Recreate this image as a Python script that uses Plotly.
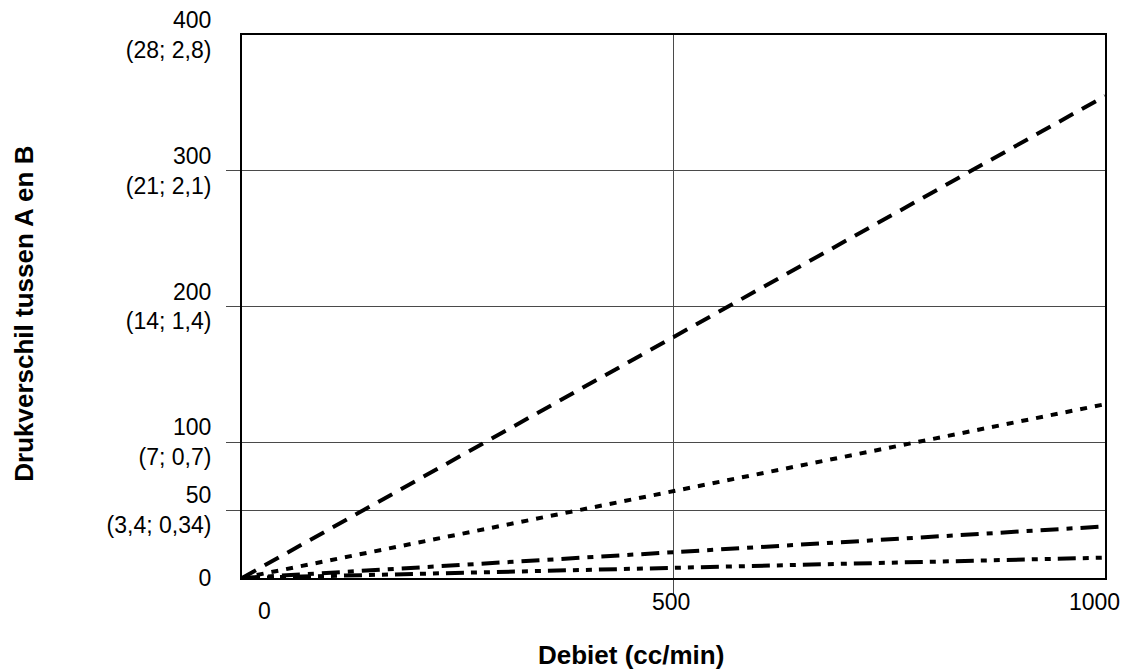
import plotly.graph_objects as go

# data
debiet = [0, 1000]
serie_a = [0, 355]   # dashed
serie_b = [0, 128]   # dotted
serie_c = [0, 38]    # dash-dot
serie_d = [0, 15]    # dash-dot-dot

y_ticks = [0, 50, 100, 200, 300, 400]
y_labels = ["0", "50<br>(3,4; 0,34)", "100<br>(7; 0,7)", "200<br>(14; 1,4)",
            "300<br>(21; 2,1)", "400<br>(28; 2,8)"]
y_grid = [50, 100, 200, 300]
x_ticks = [0, 500, 1000]
x_labels = ["0", "500", "1000"]
x_grid = [500]

FONT = "Liberation Sans, Arial, Helvetica, sans-serif"
GRID = "#4a4a4a"

series = [
    (serie_a, "16px,10px"),
    (serie_b, "7px,8px"),
    (serie_c, "18px,8px,6px,8px"),
    (serie_d, "18px,7px,6px,7px,6px,7px"),
]

fig = go.Figure()
for vals, dash in series:
    fig.add_trace(go.Scatter(x=debiet, y=vals, mode="lines",
                             line=dict(color="black", width=4, dash=dash),
                             showlegend=False, hoverinfo="skip"))

fig.update_layout(
    width=1121, height=664,
    margin=dict(l=234, r=24, t=27, b=94),
    plot_bgcolor="white", paper_bgcolor="white",
    font=dict(family=FONT, size=23, color="black"),
    xaxis=dict(range=[0, 1000], tickvals=x_grid, showticklabels=False,
               showgrid=True, gridcolor=GRID, gridwidth=1,
               ticks="outside", ticklen=14, tickcolor=GRID, tickwidth=1,
               showline=True, linecolor="black", linewidth=2, mirror=True,
               zeroline=False, automargin=False),
    yaxis=dict(range=[0, 400], tickvals=y_ticks, ticktext=y_labels,
               showgrid=False, ticks="outside", ticklen=14,
               tickcolor="rgba(0,0,0,0)", ticklabelstandoff=10,
               ticklabeloverflow="allow", automargin=False,
               minor=dict(tickmode="array", tickvals=y_grid, ticks="outside",
                          ticklen=14, tickcolor=GRID, tickwidth=1,
                          showgrid=True, gridcolor=GRID, gridwidth=1),
               showline=True, linecolor="black", linewidth=2, mirror=True,
               zeroline=False),
)

# x tick labels, placed like in the reference (slightly offset)
x_shift = {0: 22, 500: -3, 1000: -11}
y_shift = {0: -18, 500: -9, 1000: -9}
for v, t in zip(x_ticks, x_labels):
    fig.add_annotation(x=v, y=0, xref="x", yref="paper", text=t,
                       showarrow=False, yanchor="top", xanchor="center",
                       xshift=x_shift[v], yshift=y_shift[v],
                       font=dict(size=23))

fig.add_annotation(x=0.451, y=-0.142, xref="paper", yref="paper",
                   text="<b>Debiet (cc/min)</b>", showarrow=False,
                   xanchor="center", yanchor="middle", font=dict(size=26))
fig.add_annotation(x=-0.253, y=0.486, xref="paper", yref="paper",
                   text="<b>Drukverschil tussen A en B</b>", showarrow=False,
                   xanchor="center", yanchor="middle",
                   textangle=-90, font=dict(size=26))

fig.write_html("out.html")
